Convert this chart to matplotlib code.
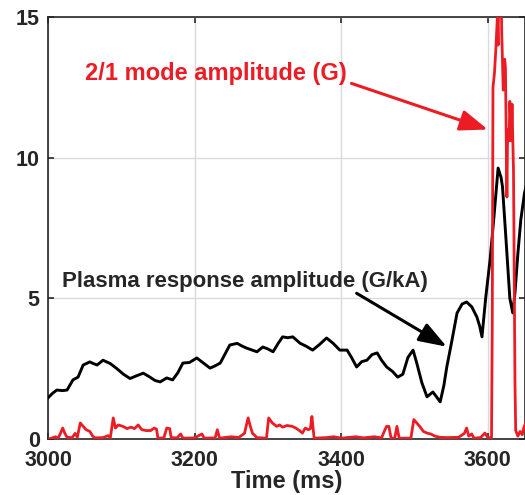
import matplotlib
matplotlib.use("Agg")
import matplotlib.pyplot as plt

plt.rcParams["font.family"] = ["Liberation Sans", "DejaVu Sans"]
plt.rcParams["font.weight"] = "bold"

# plasma response amplitude (G/kA)
resp_t = [3000, 3006, 3012, 3020, 3026, 3034, 3041, 3048, 3057, 3062, 3067, 3075,
          3085, 3094, 3103, 3112, 3121, 3130, 3139, 3146, 3153, 3162, 3170, 3177,
          3184, 3193, 3203, 3212, 3221, 3228, 3235, 3248, 3258, 3265, 3271, 3285,
          3293, 3300, 3307, 3314, 3320, 3327, 3334, 3344, 3352, 3361, 3370, 3380,
          3389, 3398, 3408, 3414, 3421, 3428, 3435, 3442, 3449, 3455, 3462, 3470,
          3477, 3484, 3491, 3498, 3503, 3510, 3517, 3525, 3530, 3535, 3540, 3544,
          3551, 3558, 3565, 3571, 3578, 3585, 3589, 3592, 3597, 3603, 3608, 3614,
          3618, 3620, 3625, 3630, 3634, 3637, 3641, 3645, 3650, 3655]
resp_v = [1.46, 1.62, 1.74, 1.72, 1.74, 2.1, 2.2, 2.63, 2.74, 2.68, 2.63, 2.8,
          2.68, 2.5, 2.3, 2.15, 2.25, 2.34, 2.2, 2.08, 2.03, 2.17, 2.1, 2.35,
          2.7, 2.72, 2.88, 2.7, 2.52, 2.6, 2.7, 3.34, 3.4, 3.3, 3.23, 3.1,
          3.27, 3.2, 3.1, 3.4, 3.63, 3.6, 3.63, 3.4, 3.3, 3.16, 3.35, 3.59,
          3.4, 3.16, 3.16, 2.9, 2.56, 2.75, 2.8, 3.0, 3.06, 2.8, 2.56, 2.4,
          2.2, 2.3, 2.9, 3.16, 2.7, 2.0, 1.5, 1.67, 1.5, 1.32, 1.9, 2.56,
          3.5, 4.48, 4.8, 4.87, 4.7, 4.34, 4.0, 3.63, 5.0, 6.36, 7.8, 9.63,
          9.3, 8.96, 7.0, 5.0, 4.48, 5.2, 6.6, 7.8, 8.74, 9.3]

# 2/1 mode amplitude (G)
mode_t = [3000, 3005, 3010, 3014, 3017, 3020, 3023, 3026, 3033, 3037, 3040, 3044,
          3048, 3052, 3057, 3061, 3064, 3075, 3082, 3085, 3089, 3092, 3096, 3102,
          3108, 3113, 3118, 3123, 3128, 3134, 3140, 3145, 3148, 3150, 3158, 3162,
          3164, 3166, 3168, 3176, 3181, 3184, 3200, 3210, 3213, 3228, 3231, 3234,
          3250, 3260, 3268, 3273, 3276, 3279, 3285, 3298, 3301, 3306, 3312, 3316,
          3320, 3326, 3333, 3338, 3343, 3347, 3351, 3355, 3358, 3360, 3363, 3380,
          3390, 3400, 3420, 3430, 3445, 3455, 3460, 3462, 3465, 3468, 3473, 3476,
          3479, 3495, 3499, 3503, 3507, 3512, 3517, 3522, 3528, 3535, 3545, 3560,
          3568, 3571, 3574, 3578, 3581, 3590, 3596, 3600, 3605, 3606, 3607, 3609,
          3611, 3613, 3614, 3615, 3618, 3619, 3621, 3623, 3624, 3626, 3627, 3629,
          3630, 3632, 3633, 3635, 3637, 3638, 3641, 3644, 3647, 3649, 3652]
mode_v = [0.0, 0.03, 0.08, 0.04, 0.2, 0.39, 0.2, 0.06, 0.05, 0.2, 0.06, 0.57,
          0.45, 0.33, 0.27, 0.1, 0.04, 0.05, 0.12, 0.04, 0.75, 0.39, 0.5, 0.45,
          0.37, 0.42, 0.37, 0.5, 0.33, 0.3, 0.3, 0.39, 0.35, 0.03, 0.04, 0.39,
          0.38, 0.37, 0.05, 0.04, 0.18, 0.03, 0.04, 0.18, 0.03, 0.04, 0.33, 0.03,
          0.08, 0.05, 0.2, 0.75, 0.45, 0.2, 0.05, 0.03, 0.75, 0.57, 0.45, 0.5,
          0.42, 0.48, 0.45, 0.39, 0.3, 0.21, 0.39, 0.33, 0.37, 0.8, 0.03, 0.05,
          0.08, 0.03, 0.08, 0.04, 0.08, 0.04, 0.35, 0.45, 0.45, 0.03, 0.03, 0.45,
          0.03, 0.03, 0.69, 0.57, 0.45, 0.27, 0.21, 0.18, 0.1, 0.06, 0.05, 0.06,
          0.2, 0.39, 0.1, 0.18, 0.03, 0.05, 0.21, 0.05, 0.05, 4.0, 12.5, 13.0,
          13.9, 15.0, 14.0, 16.0, 16.0, 14.4, 12.4, 13.5, 13.2, 8.6, 11.0, 10.6,
          12.0, 10.6, 11.9, 9.5, 2.0, 0.3, 0.1, 0.27, 0.15, 0.39, 0.6]

xticks = [3000, 3200, 3400, 3600]
yticks = [0, 5, 10, 15]

red = "#ec1c24"
dark = "#262626"

fig = plt.figure(figsize=(5.25, 4.95), dpi=100)
ax = fig.add_axes([48 / 525, 56 / 495, 476.5 / 525, 422 / 495])

ax.plot(resp_t, resp_v, color="black", lw=2.1, zorder=3)
ax.plot(mode_t, mode_v, color=red, lw=2.0, zorder=4)

ax.set_xlim(3000, 3650)
ax.set_ylim(0, 15)
ax.set_xticks(xticks)
ax.set_yticks(yticks)
ax.grid(True, color="#dadada", lw=1.0)
ax.set_axisbelow(True)
ax.tick_params(direction="in", top=True, right=True, length=4, width=1.2,
               labelsize=15.5, colors=dark, pad=6)
ax.tick_params(axis="x", pad=8)
for sp in ax.spines.values():
    sp.set_color(dark)
    sp.set_linewidth(1.2)
ax.set_xlabel("Time (ms)", fontsize=17, fontweight="bold", color=dark, labelpad=-1)

ax.text(3019, 5.40, "Plasma response amplitude (G/kA)", fontsize=16,
        fontweight="bold", color=dark, va="baseline", ha="left", zorder=5)
ax.annotate("", xy=(3544, 3.28), xytext=(3421, 5.18),
            arrowprops=dict(arrowstyle="-|>,head_length=0.85,head_width=0.3",
                            mutation_scale=20, color="black", lw=2.2,
                            shrinkA=0, shrinkB=0), zorder=5)

ax.text(3050, 12.76, "2/1 mode amplitude (G)", fontsize=17,
        fontweight="bold", color=red, va="baseline", ha="left", zorder=5)
ax.annotate("", xy=(3600, 11.0), xytext=(3414, 12.64),
            arrowprops=dict(arrowstyle="-|>,head_length=0.85,head_width=0.32",
                            mutation_scale=20, color=red, lw=2.2,
                            shrinkA=0, shrinkB=0), zorder=5)

fig.savefig("out.png", dpi=100)
